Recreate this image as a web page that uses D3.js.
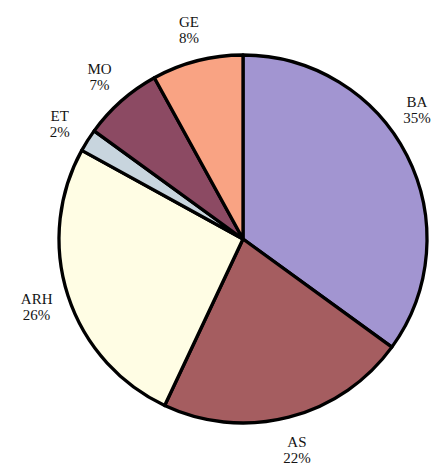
<!DOCTYPE html>
<html>
<head>
<meta charset="UTF-8">
<title>Pie</title>
<script src="https://cdn.jsdelivr.net/npm/d3@7/dist/d3.min.js"></script>
<style>
html, body { margin: 0; padding: 0; background: #fff; }
svg { display: block; }
.lbl { font-family: "Liberation Serif", "DejaVu Serif", serif; font-size: 15px; fill: #141414; }
</style>
</head>
<body>
<script>
// slices go clockwise from 12 o'clock
var categories = ["BA", "AS", "ARH", "ET", "MO", "GE"];
var shares = [35, 22, 26, 2, 7, 8];

var width = 439,
    height = 466;

var cx = 243, cy = 239,
    radius = 184,
    labelRadius = 217;

var colour = d3.scaleOrdinal()
    .domain(categories)
    .range(["#a295d1", "#a55d60", "#fffde4", "#c8d5de", "#8c4a63", "#f9a383"]);

var svg = d3.select("body").append("svg")
    .attr("width", width)
    .attr("height", height);

var g = svg.append("g")
    .attr("transform", "translate(" + cx + "," + cy + ")");

var pie = d3.pie()
    .sort(null)
    .value(function (d, i) { return shares[i]; });

var arcs = pie(categories);

var arc = d3.arc()
    .innerRadius(0)
    .outerRadius(radius);

g.selectAll("path")
    .data(arcs)
    .enter()
    .append("path")
    .attr("d", arc)
    .attr("fill", function (d) { return colour(d.data); })
    .attr("stroke", "#000")
    .attr("stroke-width", 3.3)
    .attr("stroke-linejoin", "round");

// labels sit on a circle outside the pie; if one runs off the right side,
// slide it along that circle until it fits (like the original)
var maxX = width - cx - 22;
function labelPos(d) {
    var a = (d.startAngle + d.endAngle) / 2;
    var x = labelRadius * Math.sin(a),
        y = -labelRadius * Math.cos(a);
    if (x > maxX) {
        x = maxX;
        y = -Math.sqrt(labelRadius * labelRadius - x * x);
    }
    return [x, y];
}

var labels = g.selectAll("text")
    .data(arcs)
    .enter()
    .append("text")
    .attr("class", "lbl")
    .attr("text-anchor", "middle")
    .attr("transform", function (d) {
        var p = labelPos(d);
        return "translate(" + p[0] + "," + p[1] + ")";
    });

labels.append("tspan")
    .attr("x", 0)
    .attr("y", -2)
    .text(function (d) { return d.data; });

labels.append("tspan")
    .attr("x", 0)
    .attr("y", 14)
    .text(function (d, i) { return shares[i] + "%"; });
</script>
</body>
</html>
